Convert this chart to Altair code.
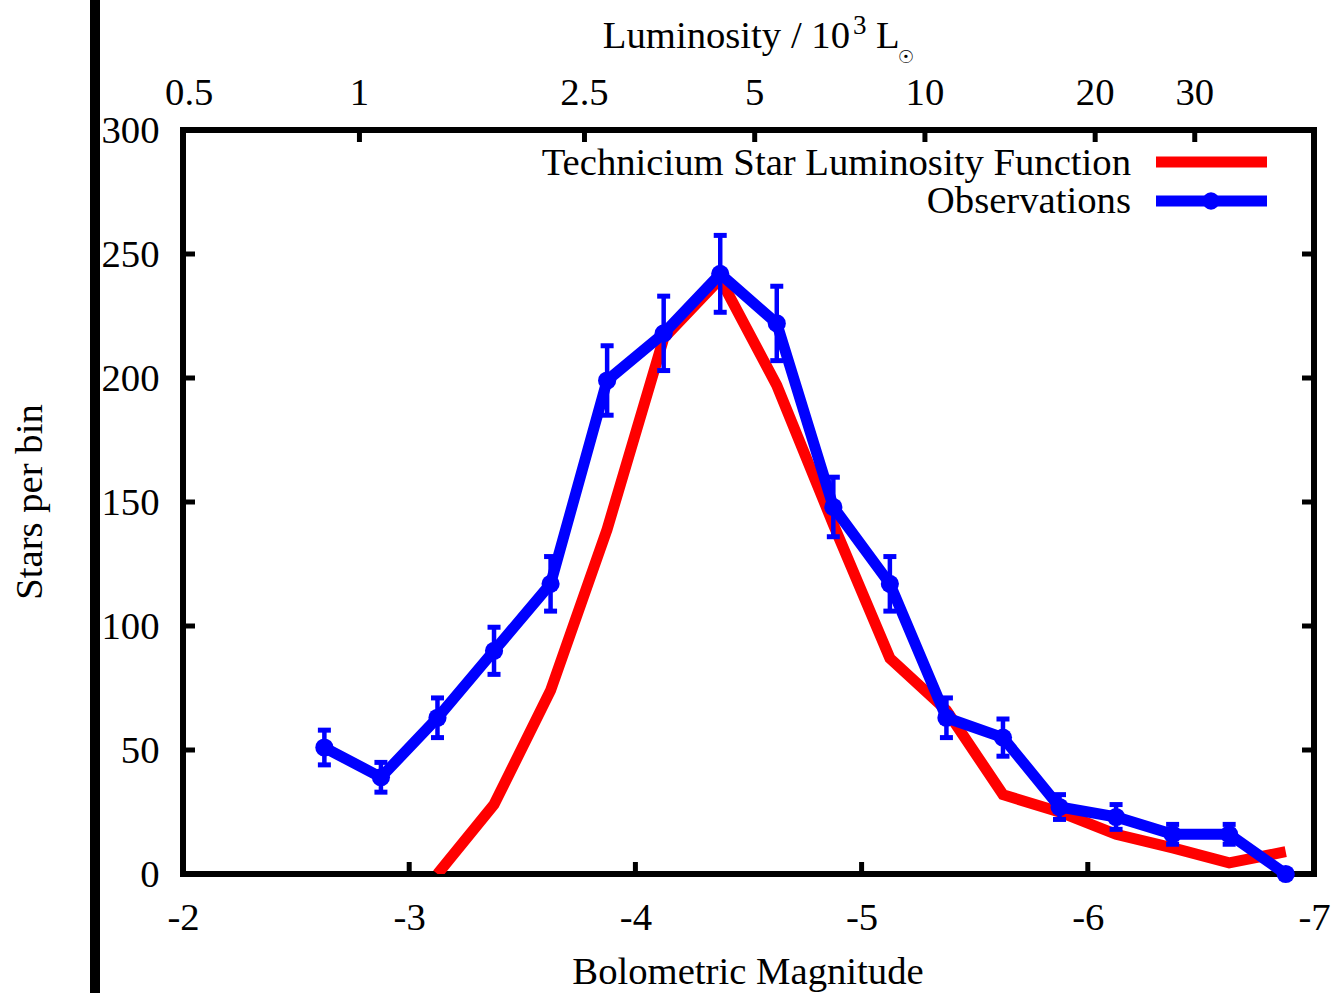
import altair as alt
import pandas as pd
import math

# ---- data ----
mag = [-2.625, -2.875, -3.125, -3.375, -3.625, -3.875, -4.125, -4.375, -4.625,
       -4.875, -5.125, -5.375, -5.625, -5.875, -6.125, -6.375, -6.625, -6.875]
obs = [51, 39, 63, 90, 117, 199, 218, 242, 222, 148, 117, 63, 55, 27, 23, 16, 16, 0]
obs_err = [7, 6, 8, 9.5, 11, 14, 15, 15.5, 15, 12, 11, 8, 7.5, 5, 5, 4, 4, 0]

model_mag = [-3.125, -3.375, -3.625, -3.875, -4.125, -4.375, -4.625, -4.875,
             -5.125, -5.375, -5.625, -5.875, -6.125, -6.375, -6.625, -6.875]
model = [0, 28, 74, 139, 216, 240, 197, 141, 87, 66, 32, 25, 16, 10.5, 4.5, 9]

x_ticks = [-2, -3, -4, -5, -6, -7]
y_ticks = [0, 50, 100, 150, 200, 250, 300]
lum_labels = ["0.5", "1", "2.5", "5", "10", "20", "30"]
lum_values = [0.5, 1, 2.5, 5, 10, 20, 30]
M_REF = -2.78  # magnitude of 10^3 Lsun on the top axis
lum_mag = [M_REF - 2.5 * math.log10(v) for v in lum_values]

legend_labels = ["Technicium Star Luminosity Function", "Observations"]

W, H = 1131, 744
FONT = "Liberation Serif"
FS = 38.7
RED = "#ff0000"
BLUE = "#0000ff"

xsc = alt.Scale(domain=[-2, -7], nice=False)
ysc = alt.Scale(domain=[0, 300], nice=False)

obs_df = pd.DataFrame({"M": mag, "N": obs, "lo": [o - e for o, e in zip(obs, obs_err)],
                       "hi": [o + e for o, e in zip(obs, obs_err)], "e": obs_err})
err_df = obs_df[obs_df["e"] > 0]
mod_df = pd.DataFrame({"M": model_mag, "N": model})

X = alt.X("M:Q", scale=xsc,
          axis=alt.Axis(values=x_ticks, labelExpr="'' + datum.value", labelFont=FONT,
                        labelFontSize=FS, labelColor="black", labelPadding=24,
                        labelFlush=False, labelOverlap=False, ticks=False, domain=False,
                        grid=False, title=None))
Y = alt.Y("N:Q", scale=ysc,
          axis=alt.Axis(values=y_ticks, labelExpr="'' + datum.value", labelFont=FONT,
                        labelFontSize=FS, labelColor="black", labelPadding=24,
                        labelFlush=False, labelOverlap=False, ticks=False, domain=False,
                        grid=False, title=None))

red = alt.Chart(mod_df).mark_line(color=RED, strokeWidth=11, clip=True).encode(x=X, y=Y)
blue = alt.Chart(obs_df).mark_line(color=BLUE, strokeWidth=11).encode(x=X, y=Y)
erule = alt.Chart(err_df).mark_rule(color=BLUE, strokeWidth=4.5, opacity=1).encode(
    x=alt.X("M:Q", scale=xsc), y=alt.Y("lo:Q", scale=ysc), y2="hi:Q")
cap_lo = alt.Chart(err_df).mark_tick(color=BLUE, orient="horizontal", size=13, thickness=5,
                                     opacity=1).encode(
    x=alt.X("M:Q", scale=xsc), y=alt.Y("lo:Q", scale=ysc))
cap_hi = alt.Chart(err_df).mark_tick(color=BLUE, orient="horizontal", size=13, thickness=5,
                                     opacity=1).encode(
    x=alt.X("M:Q", scale=xsc), y=alt.Y("hi:Q", scale=ysc))
pts = alt.Chart(obs_df).mark_circle(color=BLUE, opacity=1, size=330).encode(x=X, y=Y)

# inward ticks
xt_df = pd.DataFrame({"M": x_ticks[1:-1]})
bt = alt.Chart(xt_df).mark_rule(color="black", strokeWidth=5).encode(
    x=alt.X("M:Q", scale=xsc), y=alt.value(H), y2=alt.value(H - 12))
yt_df = pd.DataFrame({"N": y_ticks[1:-1]})
lt = alt.Chart(yt_df).mark_rule(color="black", strokeWidth=5).encode(
    y=alt.Y("N:Q", scale=ysc), x=alt.value(0), x2=alt.value(12))
rt = alt.Chart(yt_df).mark_rule(color="black", strokeWidth=5).encode(
    y=alt.Y("N:Q", scale=ysc), x=alt.value(W), x2=alt.value(W - 12))

lum_df = pd.DataFrame({"M": lum_mag, "lab": lum_labels})
tt = alt.Chart(lum_df[lum_df["M"] < -2.1]).mark_rule(color="black", strokeWidth=5).encode(
    x=alt.X("M:Q", scale=xsc), y=alt.value(0), y2=alt.value(12))
tlab = alt.Chart(lum_df).mark_text(font=FONT, fontSize=FS, color="black", baseline="middle").encode(
    x=alt.X("M:Q", scale=xsc), y=alt.value(-37), text="lab:N")


def txt(s, x, y, size=FS, align="center", baseline="middle", angle=0, font=FONT):
    kw = dict(font=font, fontSize=size, color="black", baseline=baseline, align=align)
    if angle:
        kw["angle"] = angle
    return alt.Chart(pd.DataFrame({"t": [s]})).mark_text(**kw).encode(
        x=alt.value(x), y=alt.value(y), text="t:N")


xtitle = txt("Bolometric Magnitude", 565, 842)
ytitle = txt("Stars per bin", -153, 372, angle=270)
ttl1 = txt("Luminosity / 10", 667, -82, align="right", baseline="alphabetic")
ttl2 = txt("3", 670, -96, size=27, align="left", baseline="alphabetic")
ttl3 = txt("L", 693, -82, align="left", baseline="alphabetic")
ttl4 = txt("\u2609", 723, -72, size=18, font="DejaVu Sans")

# legend
leg1 = txt(legend_labels[0], 948, 33, align="right")
leg2 = txt(legend_labels[1], 948, 71, align="right")
one = pd.DataFrame({"k": [0]})
leg_l1 = alt.Chart(one).mark_rule(color=RED, strokeWidth=11).encode(
    x=alt.value(973), x2=alt.value(1084), y=alt.value(32))
leg_l2 = alt.Chart(one).mark_rule(color=BLUE, strokeWidth=11).encode(
    x=alt.value(973), x2=alt.value(1084), y=alt.value(71))
leg_pt = alt.Chart(one).mark_circle(color=BLUE, opacity=1, size=300).encode(
    x=alt.value(1028), y=alt.value(71))

# stray vertical bar at left edge of the image
bar = alt.Chart(one).mark_rule(color="black", strokeWidth=10).encode(
    x=alt.value(-88), y=alt.value(-140), y2=alt.value(880))

chart = alt.layer(red, blue, erule, cap_lo, cap_hi, pts, bt, lt, rt, tt, tlab,
                  xtitle, ytitle, ttl1, ttl2, ttl3, ttl4,
                  leg_l1, leg_l2, leg_pt, leg1, leg2, bar).properties(
    width=W, height=H,
    background="white",
    padding={"left": 183, "top": 130, "right": 24, "bottom": 119},
    autosize=alt.AutoSizeParams(type="none"),
).configure_view(stroke="black", strokeWidth=6)

chart.save("out.html", embed_options={"renderer": "svg", "actions": False})
